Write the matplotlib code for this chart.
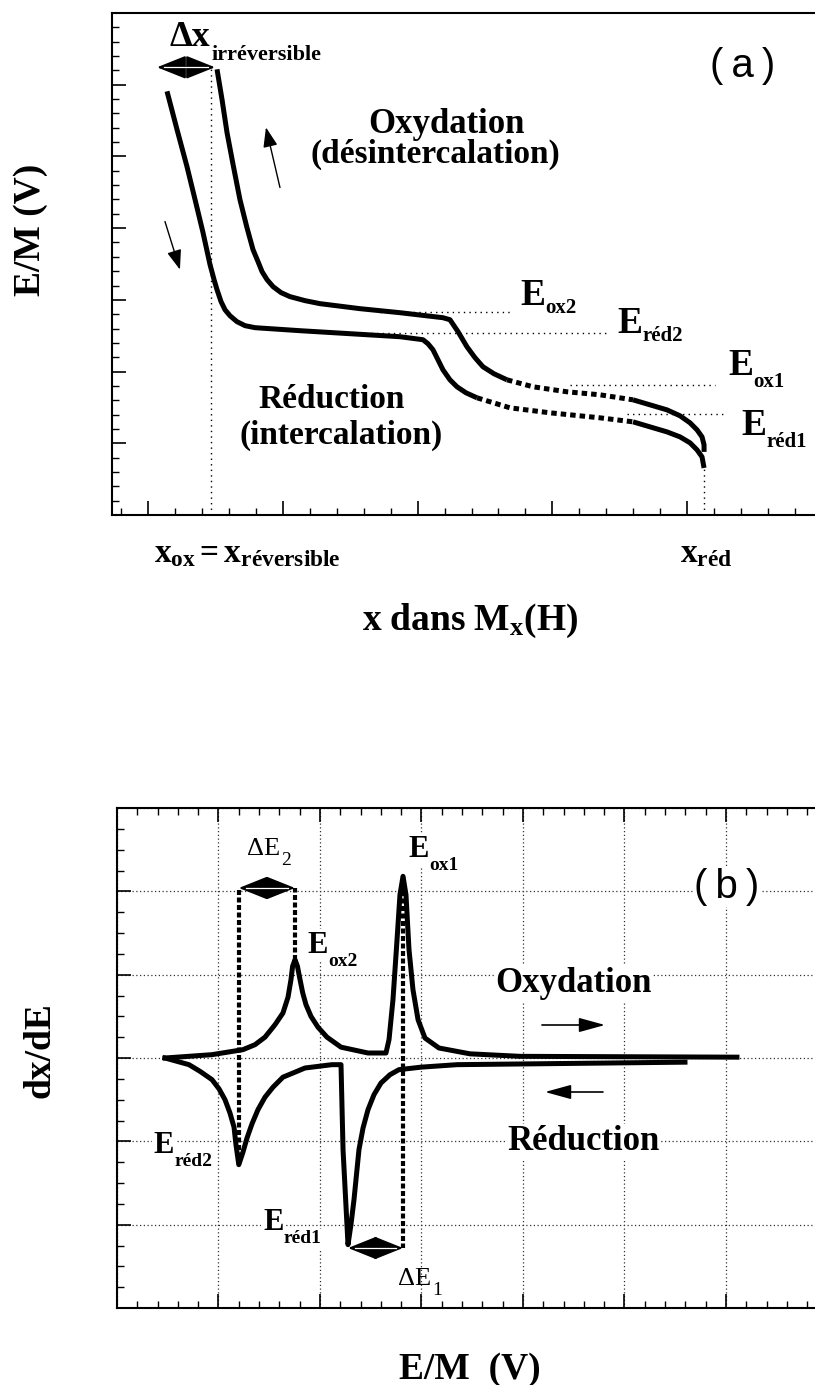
#!/usr/bin/env python3

import numpy as np
import matplotlib as mpl
mpl.use('Agg')
import matplotlib.pyplot as plt
from matplotlib.ticker import MultipleLocator

plt.rcParams['font.family'] = ['Liberation Serif', 'DejaVu Serif']
plt.rcParams['mathtext.fontset'] = 'custom'
plt.rcParams['mathtext.rm'] = 'Liberation Serif'
plt.rcParams['mathtext.bf'] = 'Liberation Serif:bold'
plt.rcParams['mathtext.it'] = 'Liberation Serif:italic'
plt.rcParams['lines.solid_joinstyle'] = 'round'
plt.rcParams['lines.dash_joinstyle'] = 'round'

#-----------------------------------------------------------------------------#
# (a) potential vs composition, one oxidation and one reduction branch

ox_x = [0.512, 0.549, 0.586, 0.631, 0.682, 0.734, 0.779, 0.816, 0.846, 0.883,
        0.928, 0.987, 1.053, 1.165, 1.276, 1.573, 1.869, 2.188, 2.240, 2.300,
        2.366, 2.426, 2.485, 2.567, 2.663, 2.856, 3.108, 3.353, 3.598, 3.850,
        3.947, 4.021, 4.073, 4.110, 4.125, 4.125]
ox_e = [6.215, 5.796, 5.335, 4.888, 4.399, 4.008, 3.701, 3.534, 3.394, 3.282,
        3.184, 3.101, 3.045, 2.989, 2.947, 2.877, 2.821, 2.751, 2.723, 2.556,
        2.346, 2.193, 2.067, 1.969, 1.885, 1.788, 1.718, 1.676, 1.606, 1.466,
        1.383, 1.285, 1.187, 1.089, 0.978, 0.880]

red_x = [0.141, 0.215, 0.289, 0.349, 0.408, 0.460, 0.490, 0.512, 0.542, 0.571,
         0.608, 0.660, 0.720, 0.794, 1.128, 1.499, 1.869, 2.040, 2.077, 2.114,
         2.151, 2.188, 2.240, 2.292, 2.359, 2.441, 2.686, 2.982, 3.353, 3.598,
         3.850, 3.947, 4.021, 4.073, 4.110, 4.125]
red_e = [5.908, 5.377, 4.860, 4.399, 3.939, 3.492, 3.282, 3.142, 2.975, 2.863,
         2.779, 2.696, 2.640, 2.612, 2.570, 2.528, 2.486, 2.444, 2.388, 2.304,
         2.165, 2.025, 1.885, 1.788, 1.704, 1.634, 1.494, 1.425, 1.355, 1.299,
         1.159, 1.089, 1.006, 0.908, 0.810, 0.656]

# stretch of each branch recorded as sparse points (drawn as square dots)
ox_sparse = (24, 28)
red_sparse = (25, 29)

# characteristic levels (V scale) and compositions
levels_a = {'ox2': 2.835, 'red2': 2.542, 'ox1': 1.816, 'red1': 1.411}
x_rev = 0.467

#-----------------------------------------------------------------------------#
# (b) derivative curve dx/dE vs E

ox_b_E = [0.473, 0.936, 1.241, 1.360, 1.458, 1.557, 1.635, 1.685, 1.714, 1.730,
          1.754, 1.778, 1.800, 1.830, 1.862, 1.911, 1.980, 2.069, 2.207, 2.473,
          2.650, 2.680, 2.719, 2.759, 2.788, 2.818, 2.847, 2.877, 2.916, 2.966,
          3.034, 3.172, 3.478, 3.970, 6.108]
ox_b_d = [3.00, 3.04, 3.10, 3.16, 3.25, 3.40, 3.54, 3.73, 3.94, 4.10,
          4.18, 4.10, 3.96, 3.78, 3.64, 3.50, 3.37, 3.25, 3.13, 3.06,
          3.06, 3.22, 3.70, 4.42, 4.96, 5.18, 4.96, 4.30, 3.82, 3.46,
          3.24, 3.12, 3.05, 3.02, 3.01]

red_b_E = [0.473, 0.591, 0.709, 0.818, 0.936, 1.005, 1.064, 1.113, 1.153, 1.172,
           1.200, 1.241, 1.281, 1.330, 1.389, 1.458, 1.537, 1.635, 1.754, 1.852,
           2.118, 2.207, 2.227, 2.276, 2.305, 2.335, 2.384, 2.424, 2.473, 2.532,
           2.601, 2.690, 2.778, 2.995, 3.350, 5.596]
red_b_d = [3.00, 2.96, 2.92, 2.84, 2.74, 2.63, 2.50, 2.34, 2.17, 1.96,
           1.72, 1.87, 2.04, 2.21, 2.38, 2.53, 2.65, 2.77, 2.83, 2.88,
           2.92, 2.92, 1.90, 0.76, 1.00, 1.30, 1.90, 2.16, 2.38, 2.56,
           2.70, 2.80, 2.86, 2.89, 2.92, 2.95]


#-----------------------------------------------------------------------------#


def dbl_arrow(ax, x0, x1, y):
	''' Double headed arrow with a thin white line through its heads '''
	ax.annotate('', xy=(x1, y), xytext=(x0, y),
	            arrowprops=dict(arrowstyle='<|-|>,head_length=0.9,head_width=0.36',
	                            mutation_scale=20, lw=1.5, color='k',
	                            shrinkA=0, shrinkB=0), zorder=6)
	pad = (x1 - x0) * 0.12
	ax.plot([x0 + pad, x1 - pad], [y, y], color='white', lw=0.9, zorder=7)


def thin_arrow(ax, tail, head, hl=0.6, hw=0.22, lw=1.0):
	ax.annotate('', xy=head, xytext=tail,
	            arrowprops=dict(arrowstyle='-|>,head_length=%g,head_width=%g' % (hl, hw),
	                            mutation_scale=20, lw=lw, color='k',
	                            shrinkA=0, shrinkB=0))


def sub_label(ax, x, y, main, sub, size, subsize, drop, weight='bold', **kw):
	'''
	     Main text with its baseline at (x, y) and a subscript placed
	     right after it, 'drop' pixels below the main baseline.
	'''
	t = ax.text(x, y, main, fontsize=size, fontweight=weight,
	            ha='left', va='baseline', **kw)
	# bbox bottom of the main text sits one descent below its baseline
	ax.annotate(sub, xy=(1, 0), xycoords=t,
	            xytext=(0.5, 0.217 * size - drop * 0.72),
	            textcoords='offset points', fontsize=subsize, fontweight=weight,
	            ha='left', va='baseline', **kw)
	return t


def setup_ticks(ax, xmin, ymin, top):
	ax.xaxis.set_major_locator(MultipleLocator(1))
	ax.xaxis.set_minor_locator(MultipleLocator(xmin))
	ax.yaxis.set_major_locator(MultipleLocator(1))
	ax.yaxis.set_minor_locator(MultipleLocator(ymin))
	ax.tick_params(which='both', direction='in', top=top, right=False,
	               labelbottom=False, labelleft=False)
	ax.tick_params(which='major', length=10, width=1.2)
	ax.tick_params(which='minor', length=5, width=1.0)
	ax.spines['right'].set_visible(False)
	for s in ('left', 'bottom', 'top'):
		ax.spines[s].set_linewidth(1.5)


#-----------------------------------------------------------------------------#

W, H = 815, 1385
fig = plt.figure(figsize=(W / 100, H / 100), dpi=100)

# ---------------- panel (a)
ax = fig.add_axes([112 / W, 1 - 515 / H, (W - 112) / W, (515 - 13) / H])
ax.set_xlim(-0.267, 4.948)
ax.set_ylim(0, 7)
setup_ticks(ax, 0.2, 0.2, top=False)

lw_curve = 3.6
for xs, es, (i0, i1) in ((ox_x, ox_e, ox_sparse), (red_x, red_e, red_sparse)):
	ax.plot(xs[:i0 + 1], es[:i0 + 1], color='k', lw=lw_curve,
	        solid_capstyle='butt', zorder=4)
	ax.plot(xs[i0:i1 + 1], es[i0:i1 + 1], color='k', lw=lw_curve,
	        linestyle=(0, (1.1, 0.8)), zorder=4)
	ax.plot(xs[i1:], es[i1:], color='k', lw=lw_curve,
	        solid_capstyle='butt', zorder=4)

# dotted guide lines
dot = dict(color='k', lw=1.0, linestyle=(0, (1, 3)), zorder=2)
ax.plot([x_rev, x_rev], [0, ox_e[0]], **dot)
ax.plot([red_x[-1], red_x[-1]], [0, red_e[-1]], **dot)
ax.plot([1.72, 2.686], [levels_a['ox2']] * 2, **dot)
ax.plot([1.57, 3.405], [levels_a['red2']] * 2, **dot)
ax.plot([3.13, 4.206], [levels_a['ox1']] * 2, **dot)
ax.plot([3.553, 4.295], [levels_a['red1']] * 2, **dot)

dbl_arrow(ax, 0.067, 0.497, 6.243)
thin_arrow(ax, (0.979, 4.567), (0.875, 5.405))
thin_arrow(ax, (0.126, 4.092), (0.237, 3.422))

bold = dict(fontweight='bold', color='k')
sub_label(ax, 0.163, 6.536, 'Δx', 'irréversible', 26, 16, 14)
ax.text(4.414, 6.257, '(\u2009a\u2009)', family=['Liberation Sans', 'DejaVu Sans'],
        fontsize=29, ha='center', va='center')
ax.text(2.211, 5.447, 'Oxydation', fontsize=25, ha='center', va='center', **bold)
ax.text(2.129, 5.028, '(désintercalation)', fontsize=24, ha='center',
        va='center', **bold)
ax.text(1.365, 1.606, 'Réduction', fontsize=24, ha='center', va='center', **bold)
ax.text(1.432, 1.117, '(intercalation)', fontsize=24, ha='center',
        va='center', **bold)

for sub, (tx, ty), drop in (('ox2', (2.760, 2.933), 8),
                            ('réd2', (3.479, 2.542), 8),
                            ('ox1', (4.303, 1.955), 12),
                            ('réd1', (4.400, 1.117), 12)):
	sub_label(ax, tx, ty, 'E', sub, 27, 15, drop)

ax.text(0.045, -0.656, r'$\mathbf{x_{ox}= x_{réversible}}$', fontsize=24,
        ha='left', va='baseline')
ax.text(3.947, -0.656, r'$\mathbf{x_{réd}}$', fontsize=24,
        ha='left', va='baseline')
ax.text(2.389, -1.606, r'$\mathbf{x\ dans\ M_x(H)}$', fontsize=27,
        ha='center', va='baseline')

fig.text(31 / W, 1 - 230 / H, 'E/M (V)', rotation=90, fontsize=27,
         ha='center', va='center', **bold)

# ---------------- panel (b)
bx = fig.add_axes([117 / W, 1 - 1308 / H, (W - 117) / W, (1308 - 808) / H])
bx.set_xlim(0, 6.877)
bx.set_ylim(0, 6)
setup_ticks(bx, 0.2, 0.25, top=True)
bx.set_axisbelow(True)
bx.grid(True, which='major', color='0.2', lw=0.9, linestyle=(0, (1, 2)))

bx.plot(ox_b_E, ox_b_d, color='k', lw=lw_curve, zorder=4)
bx.plot(red_b_E, red_b_d, color='k', lw=lw_curve, zorder=4)

# peak positions taken from the curves
oxE = np.array(ox_b_E); oxd = np.array(ox_b_d)
rdE = np.array(red_b_E); rdd = np.array(red_b_d)
i_ox1 = np.argmax(oxd)
i_ox2 = np.argmax(np.where(oxE < 2.4, oxd, -1))
i_red1 = np.argmin(rdd)
i_red2 = np.argmin(np.where(rdE < 1.8, rdd, 99))

y_de2 = 5.04
y_de1 = 0.72
dash = dict(color='k', lw=3.0, linestyle=(0, (1.2, 0.6)), zorder=5)
bx.plot([rdE[i_red2]] * 2, [rdd[i_red2], y_de2], **dash)
bx.plot([oxE[i_ox2]] * 2, [oxd[i_ox2], y_de2], **dash)
bx.plot([oxE[i_ox1]] * 2, [oxd[i_ox1], y_de1], **dash)

dbl_arrow(bx, rdE[i_red2], oxE[i_ox2], y_de2)
dbl_arrow(bx, rdE[i_red1], oxE[i_ox1], y_de1)

thin_arrow(bx, (4.187, 3.396), (4.808, 3.396), hl=0.8, hw=0.22, lw=1.2)
thin_arrow(bx, (4.788, 2.592), (4.217, 2.592), hl=0.8, hw=0.22, lw=1.2)

wbox = dict(facecolor='white', edgecolor='none', pad=1)
sub_label(bx, 1.281, 5.436, 'ΔE', '2', 19, 14, 11, weight='normal')
sub_label(bx, 2.768, 0.276, 'ΔE', '1', 19, 14, 11, weight='normal')
for sub, (tx, ty) in (('ox1', (2.867, 5.412)), ('ox2', (1.872, 4.260)),
                      ('réd2', (0.355, 1.860)), ('réd1', (1.438, 0.936))):
	sub_label(bx, tx, ty, 'E', sub, 22, 14, 13, bbox=wbox, zorder=3)

bx.text(5.271, 3.792, 'Oxydation', fontsize=25, ha='right', va='baseline',
        bbox=wbox, zorder=3, **bold)
bx.text(5.350, 1.896, 'Réduction', fontsize=25, ha='right', va='baseline',
        bbox=wbox, zorder=3, **bold)
bx.text(6.010, 5.052, '(\u2009b\u2009)', family=['Liberation Sans', 'DejaVu Sans'],
        fontsize=29, ha='center', va='center', bbox=wbox, zorder=3)

fig.text(40 / W, 1 - 1050 / H, 'dx/dE', rotation=90, fontsize=27,
         ha='center', va='center', **bold)
fig.text(470 / W, 1 - 1379 / H, 'E/M  (V)', fontsize=27,
         ha='center', va='baseline', **bold)

fig.savefig('out.png', dpi=100)
